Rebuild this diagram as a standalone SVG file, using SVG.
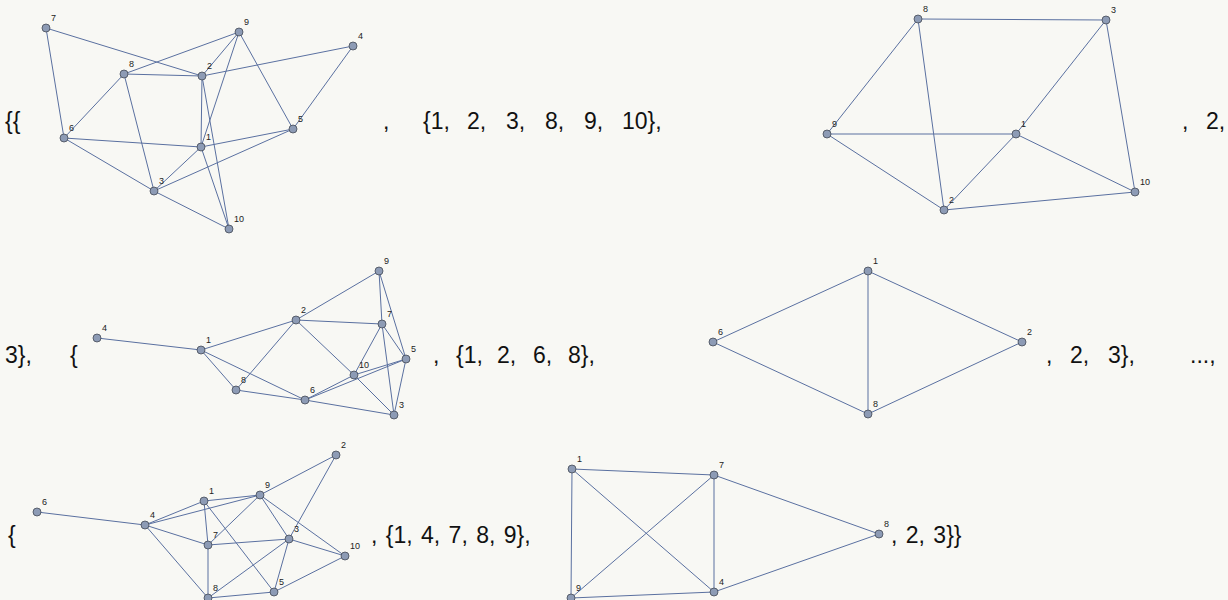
<svg xmlns="http://www.w3.org/2000/svg" width="1228" height="600" viewBox="0 0 1228 600">
<style>
.bg{fill:#f8f8f4}
.e line{stroke:#5a70a0;stroke-width:1;fill:none}
.n use{fill:#8d9bb5;stroke:#444a55;stroke-width:0.8}
.n text{font-family:"Liberation Sans",Arial,sans-serif;font-size:9px;fill:#222}
.t{font-family:"Liberation Sans",Arial,sans-serif;font-size:23px;fill:#111}
.w{word-spacing:2px}
</style>
<defs>
<circle id="dot" r="4"/>
</defs>
<rect class="bg" width="1228" height="600"/>
<g id="text">
<text class="t" x="5" y="129">{{</text>
<text class="t" x="383" y="129">,</text>
<text class="t" x="423" y="129">{1,</text>
<text class="t" x="467" y="129">2,</text>
<text class="t" x="506" y="129">3,</text>
<text class="t" x="545" y="129">8,</text>
<text class="t" x="584" y="129">9,</text>
<text class="t" x="622" y="129">10},</text>
<text class="t" x="1182" y="129">,</text>
<text class="t" x="1206" y="129">2,</text>
<text class="t" x="5" y="363">3},</text>
<text class="t" x="70" y="363">{</text>
<text class="t" x="433" y="363">,</text>
<text class="t" x="456" y="363">{1,</text>
<text class="t" x="497" y="363">2,</text>
<text class="t" x="533" y="363">6,</text>
<text class="t" x="568" y="363">8},</text>
<text class="t" x="1046" y="363">,</text>
<text class="t" x="1070" y="363">2,</text>
<text class="t" x="1108" y="363">3},</text>
<text class="t" x="1190" y="363">...,</text>
<text class="t" x="8" y="543">{</text>
<text class="t w" x="371" y="543">, {1, 4, 7, 8, 9},</text>
<text class="t w" x="891" y="543">, 2, 3}}</text>
</g>
<g id="edges" class="e">
<line x1="46" y1="28" x2="64" y2="138"/>
<line x1="46" y1="28" x2="202" y2="76"/>
<line x1="239" y1="32" x2="124" y2="74"/>
<line x1="239" y1="32" x2="202" y2="76"/>
<line x1="239" y1="32" x2="201" y2="147"/>
<line x1="239" y1="32" x2="293" y2="129"/>
<line x1="353" y1="46" x2="202" y2="76"/>
<line x1="353" y1="46" x2="293" y2="129"/>
<line x1="124" y1="74" x2="202" y2="76"/>
<line x1="124" y1="74" x2="64" y2="138"/>
<line x1="124" y1="74" x2="154" y2="191"/>
<line x1="202" y1="76" x2="201" y2="147"/>
<line x1="202" y1="76" x2="229" y2="229"/>
<line x1="64" y1="138" x2="201" y2="147"/>
<line x1="64" y1="138" x2="154" y2="191"/>
<line x1="201" y1="147" x2="293" y2="129"/>
<line x1="201" y1="147" x2="154" y2="191"/>
<line x1="201" y1="147" x2="229" y2="229"/>
<line x1="154" y1="191" x2="293" y2="129"/>
<line x1="154" y1="191" x2="229" y2="229"/>
<line x1="918" y1="19" x2="1106" y2="20"/>
<line x1="918" y1="19" x2="827" y2="134"/>
<line x1="918" y1="19" x2="944" y2="210"/>
<line x1="1106" y1="20" x2="1016" y2="134"/>
<line x1="1106" y1="20" x2="1135" y2="192"/>
<line x1="827" y1="134" x2="1016" y2="134"/>
<line x1="827" y1="134" x2="944" y2="210"/>
<line x1="1016" y1="134" x2="944" y2="210"/>
<line x1="1016" y1="134" x2="1135" y2="192"/>
<line x1="944" y1="210" x2="1135" y2="192"/>
<line x1="379" y1="271" x2="296" y2="320"/>
<line x1="379" y1="271" x2="382" y2="324"/>
<line x1="379" y1="271" x2="406" y2="359"/>
<line x1="296" y1="320" x2="382" y2="324"/>
<line x1="296" y1="320" x2="201" y2="350"/>
<line x1="296" y1="320" x2="236" y2="390"/>
<line x1="296" y1="320" x2="354" y2="375"/>
<line x1="97" y1="338" x2="201" y2="350"/>
<line x1="201" y1="350" x2="236" y2="390"/>
<line x1="201" y1="350" x2="305" y2="400"/>
<line x1="236" y1="390" x2="305" y2="400"/>
<line x1="382" y1="324" x2="354" y2="375"/>
<line x1="382" y1="324" x2="406" y2="359"/>
<line x1="382" y1="324" x2="394" y2="415"/>
<line x1="354" y1="375" x2="406" y2="359"/>
<line x1="305" y1="400" x2="354" y2="375"/>
<line x1="305" y1="400" x2="406" y2="359"/>
<line x1="354" y1="375" x2="394" y2="415"/>
<line x1="406" y1="359" x2="394" y2="415"/>
<line x1="305" y1="400" x2="394" y2="415"/>
<line x1="868" y1="271" x2="713" y2="342"/>
<line x1="868" y1="271" x2="1022" y2="342"/>
<line x1="868" y1="271" x2="868" y2="414"/>
<line x1="713" y1="342" x2="868" y2="414"/>
<line x1="1022" y1="342" x2="868" y2="414"/>
<line x1="336" y1="455" x2="260" y2="495"/>
<line x1="336" y1="455" x2="289" y2="539"/>
<line x1="260" y1="495" x2="204" y2="501"/>
<line x1="260" y1="495" x2="145" y2="525"/>
<line x1="260" y1="495" x2="208" y2="545"/>
<line x1="260" y1="495" x2="289" y2="539"/>
<line x1="260" y1="495" x2="345" y2="556"/>
<line x1="204" y1="501" x2="145" y2="525"/>
<line x1="204" y1="501" x2="208" y2="545"/>
<line x1="204" y1="501" x2="274" y2="592"/>
<line x1="37" y1="512" x2="145" y2="525"/>
<line x1="145" y1="525" x2="208" y2="545"/>
<line x1="145" y1="525" x2="208" y2="598"/>
<line x1="208" y1="545" x2="289" y2="539"/>
<line x1="208" y1="545" x2="208" y2="598"/>
<line x1="289" y1="539" x2="208" y2="598"/>
<line x1="289" y1="539" x2="345" y2="556"/>
<line x1="289" y1="539" x2="274" y2="592"/>
<line x1="345" y1="556" x2="274" y2="592"/>
<line x1="208" y1="598" x2="274" y2="592"/>
<line x1="572" y1="469" x2="714" y2="475"/>
<line x1="572" y1="469" x2="571" y2="598"/>
<line x1="572" y1="469" x2="714" y2="592"/>
<line x1="714" y1="475" x2="571" y2="598"/>
<line x1="714" y1="475" x2="714" y2="592"/>
<line x1="714" y1="475" x2="879" y2="534"/>
<line x1="714" y1="592" x2="879" y2="534"/>
<line x1="571" y1="598" x2="714" y2="592"/>
</g>
<g id="graph1" class="n">
<g id="g1n7"><use href="#dot" x="46" y="28"/><text x="51" y="21">7</text></g>
<g id="g1n9"><use href="#dot" x="239" y="32"/><text x="244" y="25">9</text></g>
<g id="g1n4"><use href="#dot" x="353" y="46"/><text x="358" y="39">4</text></g>
<g id="g1n8"><use href="#dot" x="124" y="74"/><text x="129" y="67">8</text></g>
<g id="g1n2"><use href="#dot" x="202" y="76"/><text x="207" y="69">2</text></g>
<g id="g1n6"><use href="#dot" x="64" y="138"/><text x="69" y="131">6</text></g>
<g id="g1n1"><use href="#dot" x="201" y="147"/><text x="206" y="140">1</text></g>
<g id="g1n5"><use href="#dot" x="293" y="129"/><text x="298" y="122">5</text></g>
<g id="g1n3"><use href="#dot" x="154" y="191"/><text x="159" y="184">3</text></g>
<g id="g1n10"><use href="#dot" x="229" y="229"/><text x="234" y="222">10</text></g>
</g>
<g id="graph2" class="n">
<g id="g2n8"><use href="#dot" x="918" y="19"/><text x="923" y="12">8</text></g>
<g id="g2n3"><use href="#dot" x="1106" y="20"/><text x="1111" y="13">3</text></g>
<g id="g2n9"><use href="#dot" x="827" y="134"/><text x="832" y="127">9</text></g>
<g id="g2n1"><use href="#dot" x="1016" y="134"/><text x="1021" y="127">1</text></g>
<g id="g2n10"><use href="#dot" x="1135" y="192"/><text x="1140" y="185">10</text></g>
<g id="g2n2"><use href="#dot" x="944" y="210"/><text x="949" y="203">2</text></g>
</g>
<g id="graph3" class="n">
<g id="g3n9"><use href="#dot" x="379" y="271"/><text x="384" y="264">9</text></g>
<g id="g3n2"><use href="#dot" x="296" y="320"/><text x="301" y="313">2</text></g>
<g id="g3n7"><use href="#dot" x="382" y="324"/><text x="387" y="317">7</text></g>
<g id="g3n4"><use href="#dot" x="97" y="338"/><text x="102" y="331">4</text></g>
<g id="g3n1"><use href="#dot" x="201" y="350"/><text x="206" y="343">1</text></g>
<g id="g3n5"><use href="#dot" x="406" y="359"/><text x="411" y="352">5</text></g>
<g id="g3n10"><use href="#dot" x="354" y="375"/><text x="359" y="368">10</text></g>
<g id="g3n8"><use href="#dot" x="236" y="390"/><text x="241" y="383">8</text></g>
<g id="g3n6"><use href="#dot" x="305" y="400"/><text x="310" y="393">6</text></g>
<g id="g3n3"><use href="#dot" x="394" y="415"/><text x="399" y="408">3</text></g>
</g>
<g id="graph4" class="n">
<g id="g4n1"><use href="#dot" x="868" y="271"/><text x="873" y="264">1</text></g>
<g id="g4n6"><use href="#dot" x="713" y="342"/><text x="718" y="335">6</text></g>
<g id="g4n2"><use href="#dot" x="1022" y="342"/><text x="1027" y="335">2</text></g>
<g id="g4n8"><use href="#dot" x="868" y="414"/><text x="873" y="407">8</text></g>
</g>
<g id="graph5" class="n">
<g id="g5n2"><use href="#dot" x="336" y="455"/><text x="341" y="448">2</text></g>
<g id="g5n9"><use href="#dot" x="260" y="495"/><text x="265" y="488">9</text></g>
<g id="g5n1"><use href="#dot" x="204" y="501"/><text x="209" y="494">1</text></g>
<g id="g5n6"><use href="#dot" x="37" y="512"/><text x="42" y="505">6</text></g>
<g id="g5n4"><use href="#dot" x="145" y="525"/><text x="150" y="518">4</text></g>
<g id="g5n3"><use href="#dot" x="289" y="539"/><text x="294" y="532">3</text></g>
<g id="g5n7"><use href="#dot" x="208" y="545"/><text x="213" y="538">7</text></g>
<g id="g5n10"><use href="#dot" x="345" y="556"/><text x="350" y="549">10</text></g>
<g id="g5n5"><use href="#dot" x="274" y="592"/><text x="279" y="585">5</text></g>
<g id="g5n8"><use href="#dot" x="208" y="598"/><text x="213" y="591">8</text></g>
</g>
<g id="graph6" class="n">
<g id="g6n1"><use href="#dot" x="572" y="469"/><text x="577" y="462">1</text></g>
<g id="g6n7"><use href="#dot" x="714" y="475"/><text x="719" y="468">7</text></g>
<g id="g6n8"><use href="#dot" x="879" y="534"/><text x="884" y="527">8</text></g>
<g id="g6n4"><use href="#dot" x="714" y="592"/><text x="719" y="585">4</text></g>
<g id="g6n9"><use href="#dot" x="571" y="598"/><text x="576" y="591">9</text></g>
</g>
</svg>
